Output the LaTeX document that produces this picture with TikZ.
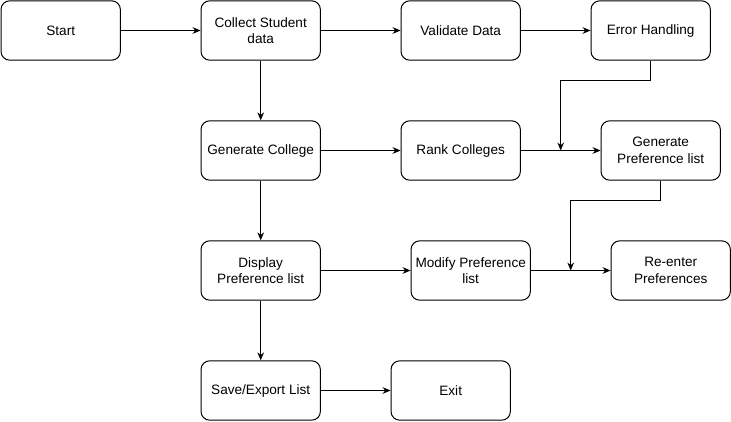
\documentclass[tikz,border=0pt]{standalone}
\usepackage{fontspec}
\setmainfont{Liberation Sans}
\usetikzlibrary{arrows.meta}
\begin{document}
\begin{tikzpicture}[x=0.75pt,y=-0.75pt,
  box/.style={draw=black, line width=0.75pt, rounded corners=6.5pt, minimum width=89.5pt, minimum height=44.5pt, inner sep=1pt, align=center, font=\fontsize{10.2}{12.5}\selectfont, fill=white},
  conn/.style={draw=black, line width=0.75pt, -{Stealth[length=6pt,width=5pt,inset=2pt]}},
  link/.style={draw=black, line width=0.75pt}]
\useasboundingbox (0,0) rectangle (731,421);
\node[box] (start) at (60.7,30.5) {Start};
\node[box] (collect) at (260.7,30.5) {Collect Student\\data};
\node[box] (validate) at (460.7,30.5) {Validate Data};
\node[box] (error) at (650.7,30.5) {Error Handling};
\node[box] (gencol) at (260.7,150.5) {Generate College};
\node[box] (rank) at (460.7,150.5) {Rank Colleges};
\node[box] (genpref) at (660.7,150.5) {Generate\\Preference list};
\node[box] (display) at (260.7,270.5) {Display\\Preference list};
\node[box] (modify) at (470.7,270.5) {Modify Preference\\list};
\node[box] (reenter) at (670.7,270.5) {Re-enter\\Preferences};
\node[box] (save) at (260.7,390.5) {Save/Export List};
\node[box] (exit) at (450.7,390.5) {Exit};
\coordinate (e1) at (650.7,80.5);
\coordinate (e2) at (560.7,80.5);
\coordinate (e3) at (560.7,150.5);
\coordinate (g1) at (660.7,200.5);
\coordinate (g2) at (570.7,200.5);
\coordinate (g3) at (570.7,270.5);
\draw[conn] (start) -- (collect);
\draw[conn] (collect) -- (validate);
\draw[conn] (validate) -- (error);
\draw[conn] (error.south) -- (e1) -- (e2) -- (e3);
\draw[conn] (collect) -- (gencol);
\draw[conn] (gencol) -- (rank);
\draw[conn] (rank) -- (genpref);
\draw[conn] (genpref.south) -- (g1) -- (g2) -- (g3);
\draw[conn] (gencol) -- (display);
\draw[conn] (display) -- (modify);
\draw[conn] (modify) -- (reenter);
\draw[conn] (display) -- (save);
\draw[conn] (save) -- (exit);
\end{tikzpicture}
\end{document}
